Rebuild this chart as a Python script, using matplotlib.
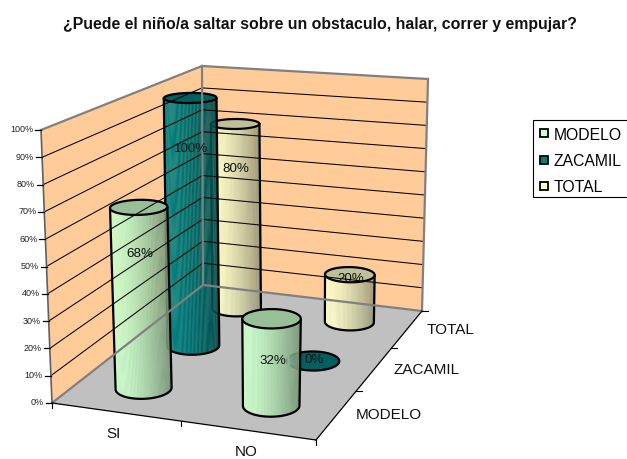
import numpy as np
import matplotlib
matplotlib.use('Agg')
import matplotlib.pyplot as plt
from matplotlib.collections import PolyCollection
from matplotlib.patches import Polygon, Rectangle
from matplotlib.lines import Line2D

plt.rcParams['font.family'] = ['Liberation Sans', 'DejaVu Sans']

titulo = '¿Puede el niño/a saltar sobre un obstaculo, halar, correr y empujar?'
categorias = ['SI', 'NO']
series = ['MODELO', 'ZACAMIL', 'TOTAL']
modelo = [68, 32]
zacamil = [100, 0]
total = [80, 20]
ticks = [0, 10, 20, 30, 40, 50, 60, 70, 80, 90, 100]

valores = [modelo, zacamil, total]
colores = ['#CCFFCC', '#008080', '#FFFFCC']
desc_label = [[46, 41], [50, -2], [44, 3]]  # cuanto baja cada etiqueta desde la tapa

# esquinas de la caja en pixeles: izq-frente, der-frente, der-fondo, izq-fondo
piso = [(52, 404), (316, 441), (422, 312), (203, 286)]
techo = [(41, 131), (325, 158), (428, 80), (202, 67)]
radio_u, radio_v = 0.102, 0.072


def homografia(pts):
    src = [(0, 0), (1, 0), (1, 1), (0, 1)]
    A, b = [], []
    for (u, v), (x, y) in zip(src, pts):
        A.append([u, v, 1, 0, 0, 0, -u * x, -v * x])
        A.append([0, 0, 0, u, v, 1, -u * y, -v * y])
        b += [x, y]
    h = np.linalg.solve(np.array(A, float), np.array(b, float))
    return np.append(h, 1).reshape(3, 3)


H_piso = homografia(piso)
H_techo = homografia(techo)


def aplicar(H, u, v):
    p = H @ np.array([u, v, np.ones_like(u)], float)
    return p[:2] / p[2]


def proj(u, v, h=0.0):
    # pasa de caja (u, v, altura) a pixeles
    u = np.asarray(u, float)
    v = np.asarray(v, float)
    p0 = aplicar(H_piso, u, v)
    p1 = aplicar(H_techo, u, v)
    return np.array(p0 + (p1 - p0) * h).T


def linea(a, b, **kw):
    ax.plot([a[0], b[0]], [a[1], b[1]], solid_capstyle='projecting', **kw)


fig = plt.figure(figsize=(6.27, 4.6), dpi=100)
ax = fig.add_axes([0, 0, 1, 1])
ax.set_xlim(0, 627)
ax.set_ylim(460, 0)
ax.axis('off')

# paredes y piso
pared_izq = [proj(0, 0), proj(0, 1), proj(0, 1, 1), proj(0, 0, 1)]
pared_fondo = [proj(0, 1), proj(1, 1), proj(1, 1, 1), proj(0, 1, 1)]
ax.add_patch(Polygon(pared_izq, fc='#FFCC99', ec='none'))
ax.add_patch(Polygon(pared_fondo, fc='#FFCC99', ec='none'))
ax.add_patch(Polygon([proj(0, 0), proj(1, 0), proj(1, 1), proj(0, 1)], fc='#C0C0C0', ec='none'))

lineas_izq = []
lineas_fondo = []
for t in ticks[1:-1]:
    h = t / 100
    lineas_izq.append((proj(0, 0, h), proj(0, 1, h)))
    lineas_fondo.append((proj(0, 1, h), proj(1, 1, h)))
for a, b in lineas_izq + lineas_fondo:
    linea(a, b, color='black', lw=0.75)

gris = dict(color='#808080', lw=1.6)
linea(proj(0, 0, 1), proj(0, 1, 1), **gris)
linea(proj(0, 1, 1), proj(1, 1, 1), **gris)
linea(proj(0, 1), proj(0, 1, 1), **gris)
linea(proj(1, 1), proj(1, 1, 1), **gris)
linea(proj(0, 0), proj(0, 1), **gris)
linea(proj(0, 1), proj(1, 1), **gris)
linea(proj(0, 0), proj(0, 0, 1), color='#606060', lw=1.2)

# ejes del piso
linea(proj(0, 0), proj(1, 0), color='black', lw=0.9)
linea(proj(1, 0), proj(1, 1), color='black', lw=0.9)
for t in ticks:
    p = proj(0, 0, t / 100)
    linea(p, p + [-6, 0], color='black', lw=0.9)
    ax.text(p[0] - 8, p[1] - 1, f'{t}%', ha='right', va='center', fontsize=6.5, color='#222222')
for u in [0, 0.5, 1]:
    p = proj(u, 0)
    linea(p, p + [0, 5], color='black', lw=0.8)
for v in [1 / 3, 2 / 3, 1]:
    p = proj(1, v)
    linea(p, p + [6, 0], color='black', lw=0.8)

for i, c in enumerate(categorias):
    p = proj((i + 0.5) / 2, 0)
    ax.text(p[0] - 2, p[1] + 21, c, ha='center', va='center', fontsize=11, color='#111111')
for j, s in enumerate(series):
    p = proj(1, (j + 0.5) / 3)
    ax.text(p[0] + 19, p[1], s, ha='left', va='center', fontsize=11, color='#111111')

# cilindros, de atras hacia adelante
ang = np.linspace(0, 2 * np.pi, 121)[:-1]
etiquetas = []
for j in [2, 1, 0]:
    for i in range(len(categorias)):
        val = valores[j][i]
        uc, vc = (i + 0.5) / 2, (j + 0.5) / 3
        u_c = uc + radio_u * np.cos(ang)
        v_c = vc + radio_v * np.sin(ang)
        base = proj(u_c, v_c, 0)
        tapa = proj(u_c, v_c, val / 100)
        rgb = np.array(matplotlib.colors.to_rgb(colores[j]))
        centro = proj(uc, vc, val / 100)
        etiquetas.append((centro[0] + 1, centro[1] + desc_label[j][i], f'{val}%'))

        if val > 0:
            i_izq, i_der = int(np.argmin(base[:, 0])), int(np.argmax(base[:, 0]))
            n = len(ang)
            idx1 = [(i_izq + k) % n for k in range((i_der - i_izq) % n + 1)]
            idx2 = [(i_izq - k) % n for k in range((i_izq - i_der) % n + 1)]
            arco = idx1 if base[idx1, 1].mean() > base[idx2, 1].mean() else idx2
            quads, tonos = [], []
            x0, x1 = base[i_izq, 0], base[i_der, 0]
            for a, b in zip(arco[:-1], arco[1:]):
                quads.append([tapa[a], tapa[b], base[b], base[a]])
                f = ((base[a, 0] + base[b, 0]) / 2 - x0) / (x1 - x0)
                tonos.append(rgb * (1 - 0.42 * f ** 1.6))
            ax.add_collection(PolyCollection(quads, facecolors=tonos, edgecolors='face', linewidths=0.15))
            silueta = np.vstack([tapa[i_izq], base[arco], tapa[i_der]])
            ax.add_patch(Polygon(silueta, fc='none', ec='black', lw=1.6, joinstyle='round'))
            # lineas de la pared vistas a traves del cilindro
            for a, b in (lineas_fondo if j == 2 else lineas_izq):
                ln, = ax.plot([a[0], b[0]], [a[1], b[1]], color='#555555', lw=0.6, ls=(0, (1, 3)), alpha=0.55)
                ln.set_clip_path(Polygon(np.vstack([tapa[arco], base[arco[::-1]]]), transform=ax.transData))
        ax.add_patch(Polygon(tapa, fc=rgb * 0.75, ec='black', lw=1.6))

for x, y, txt in etiquetas:
    ax.text(x, y, txt, ha='center', va='center', fontsize=9.6, color='#111111')

ax.text(320, 25, titulo, ha='center', va='center', fontsize=11.4, fontweight='bold', color='#111111')

# leyenda, el marco se sale de la figura por la derecha
ax.add_patch(Rectangle((533, 121), 110, 77, fc='white', ec='black', lw=0.8))
marcas = [Line2D([], [], ls='none', marker='s', ms=6, mfc=c, mec='black', mew=1.3) for c in colores]
ax.legend(marcas, series, loc='upper left', bbox_to_anchor=(531, 120), bbox_transform=ax.transData,
          fontsize=11.3, frameon=False, borderaxespad=0, borderpad=0.5, labelspacing=0.72,
          handlelength=0.6, handletextpad=0.35)

fig.savefig('out.png', dpi=100)
